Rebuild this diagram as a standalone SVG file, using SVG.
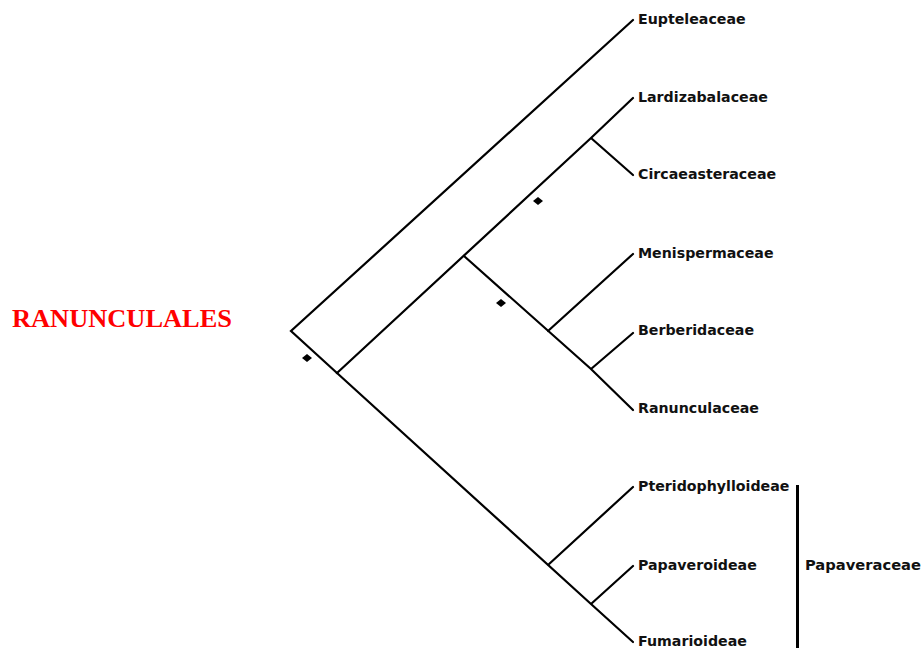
<svg xmlns="http://www.w3.org/2000/svg" width="923" height="648" viewBox="0 0 923 648">
<style>
.e{stroke:#000;stroke-width:2.2;fill:none;stroke-linecap:round}
.t{font-family:"DejaVu Sans",Verdana,sans-serif;font-weight:bold;font-size:14.2px;fill:#111}
.m{fill:#000}
</style>
<rect width="923" height="648" fill="#fff"/>
<text x="12" y="327" font-family="Liberation Serif, serif" font-weight="bold" font-size="25" fill="#f00" textLength="220" lengthAdjust="spacingAndGlyphs">RANUNCULALES</text>
<g id="connectors">
<path class="e" d="M633,20 L291,331 L337,373"/>
<path class="e" d="M337,373 L591,138 L633,98 M591,138 L633,175"/>
<path class="e" d="M464,256 L591,369 L633,410 M591,369 L633,333 M548,331 L633,254"/>
<path class="e" d="M337,373 L591,604 L633,642 M591,604 L633,566 M548,565 L633,487"/>
</g>
<g id="markers">
<polygon class="m" points="302,358 307,354 312,358 307,362"/>
<polygon class="m" points="533,201 538,197 543,201 538,205"/>
<polygon class="m" points="496,303 501,299 506,303 501,307"/>
</g>
<g id="n-eupteleaceae"><text class="t" x="638" y="24">Eupteleaceae</text></g>
<g id="n-lardizabalaceae"><text class="t" x="638" y="102">Lardizabalaceae</text></g>
<g id="n-circaeasteraceae"><text class="t" x="638" y="179">Circaeasteraceae</text></g>
<g id="n-menispermaceae"><text class="t" x="638" y="258">Menispermaceae</text></g>
<g id="n-berberidaceae"><text class="t" x="638" y="335">Berberidaceae</text></g>
<g id="n-ranunculaceae"><text class="t" x="638" y="413">Ranunculaceae</text></g>
<g id="n-pteridophylloideae"><text class="t" x="638" y="491">Pteridophylloideae</text></g>
<g id="n-papaveroideae"><text class="t" x="638" y="570">Papaveroideae</text></g>
<g id="n-fumarioideae"><text class="t" x="638" y="646">Fumarioideae</text></g>
<g id="papaveraceae">
<rect x="796" y="485" width="3" height="163" fill="#000"/>
<text class="t" x="805" y="570" textLength="116" lengthAdjust="spacingAndGlyphs">Papaveraceae</text>
</g>
</svg>
